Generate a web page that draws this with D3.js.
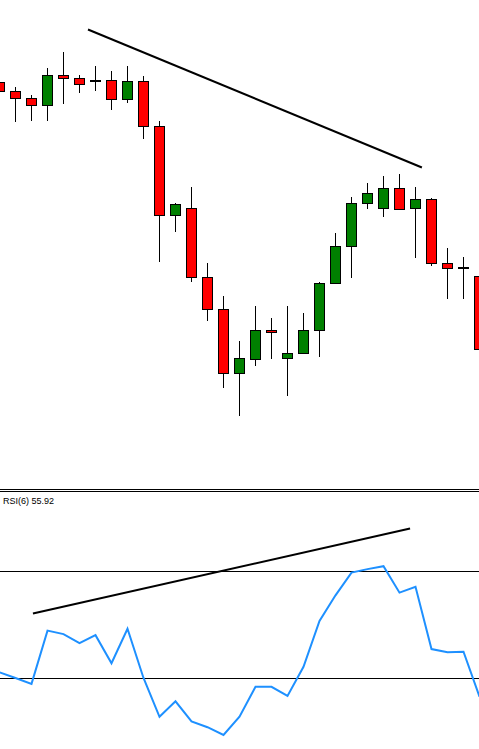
<!DOCTYPE html>
<meta charset="utf-8">
<style>
html, body { margin: 0; padding: 0; background: #fff; }
svg { display: block; }
</style>
<script src="https://d3js.org/d3.v7.min.js"></script>
<div id="chart"></div>
<script>
// candles, in arbitrary price units
const opens  = [91.93, 89.75, 87.93, 86.18, 93.75, 92.93, 92.50, 92.43, 87.58, 92.18,
                80.93, 58.68, 60.43, 43.18, 35.18, 19.18, 22.68, 29.93, 22.93, 24.18,
                29.93, 41.68, 50.93, 61.68, 60.43, 65.43, 60.43, 62.68, 46.68, 45.58, 43.43];
const highs  = [92.50, 90.75, 88.75, 95.50, 99.50, 93.83, 96.00, 94.75, 96.00, 93.50,
                82.25, 61.68, 65.75, 46.75, 38.50, 27.25, 36.00, 32.93, 36.00, 34.18,
                41.93, 54.25, 63.25, 66.75, 68.50, 69.00, 65.75, 62.93, 50.43, 48.18, 44.50];
const lows   = [89.00, 82.08, 82.33, 82.33, 86.58, 89.33, 89.83, 85.00, 86.83, 77.68,
                47.08, 54.58, 42.08, 32.33, 15.43,  8.58, 21.08, 22.68, 13.58, 23.93,
                23.33, 41.43, 42.93, 60.33, 58.33, 60.18, 48.08, 46.08, 37.68, 37.83, 24.50];
const closes = [89.58, 87.93, 86.18, 93.75, 92.93, 91.43, 92.50, 87.58, 92.18, 80.93,
                58.68, 61.43, 43.18, 35.18, 19.18, 22.93, 29.93, 29.43, 24.18, 29.93,
                41.68, 50.93, 61.68, 64.18, 65.43, 60.18, 62.68, 46.68, 45.43, 45.58, 25.18];

// RSI(6) per bar
const rsi = [32.2, 30.1, 27.9, 47.8, 46.5, 43.1, 46.1, 35.6, 48.5, 30.1,
             15.6, 21.4, 13.9, 11.7, 8.8, 15.6, 26.8, 26.8, 23.4, 34.3,
             51.4, 61.0, 69.5, 70.8, 71.9, 62.0, 64.2, 40.9, 39.7, 39.9, 23.1];
const rsiLevels = [70, 30];
const rsiLabel = "RSI(6) 55.92";

// trend lines: [bar index, value]
const priceTrend = [[5.53, 105.13], [26.40, 70.63]];
const rsiTrend = [[2.09, 54.2], [25.66, 86.0]];

const W = 479, H = 749;
const svg = d3.select("#chart").append("svg")
  .attr("width", W).attr("height", H);

const x = d3.scaleLinear().domain([0, 30]).range([-0.5, 479.5]);
const yP = d3.scaleLinear().domain([0, 100]).range([450, 50]);
const yR = d3.scaleLinear().domain([0, 100]).range([758.5, 491]);

const bars = d3.range(opens.length).map(i => ({
  i, o: opens[i], h: highs[i], l: lows[i], c: closes[i]
}));

// price panel
const candles = svg.append("g").attr("shape-rendering", "crispEdges");
candles.selectAll("line.wick").data(bars).join("line")
  .attr("class", "wick")
  .attr("x1", d => x(d.i)).attr("x2", d => x(d.i))
  .attr("y1", d => yP(d.h)).attr("y2", d => yP(d.l))
  .attr("stroke", "#000").attr("stroke-width", 1);
candles.selectAll("rect").data(bars).join("rect")
  .attr("x", d => x(d.i) - 5)
  .attr("width", 10)
  .attr("y", d => yP(Math.max(d.o, d.c)))
  .attr("height", d => Math.max(1, Math.abs(yP(d.o) - yP(d.c))))
  .attr("fill", d => d.c > d.o ? "#008000" : d.c < d.o ? "#ff0000" : "#000")
  .attr("stroke", "#000").attr("stroke-width", 1);

svg.append("path")
  .datum(priceTrend)
  .attr("fill", "none").attr("stroke", "#000").attr("stroke-width", 2)
  .attr("d", d3.line().x(d => x(d[0])).y(d => yP(d[1])));

// separator
svg.append("g").attr("shape-rendering", "crispEdges")
  .selectAll("line").data([489.5, 491.5]).join("line")
  .attr("x1", 0).attr("x2", W).attr("y1", d => d).attr("y2", d => d)
  .attr("stroke", "#000").attr("stroke-width", 1);

// RSI panel
svg.append("text")
  .attr("x", 3).attr("y", 504)
  .attr("font-family", "Liberation Sans, Arial, sans-serif")
  .attr("font-size", 9)
  .attr("fill", "#000")
  .text(rsiLabel);

svg.append("g").attr("shape-rendering", "crispEdges")
  .selectAll("line").data(rsiLevels).join("line")
  .attr("x1", 0).attr("x2", W)
  .attr("y1", d => yR(d)).attr("y2", d => yR(d))
  .attr("stroke", "#000").attr("stroke-width", 1);

svg.append("path")
  .datum(rsi)
  .attr("fill", "none").attr("stroke", "#1e90ff").attr("stroke-width", 2)
  .attr("d", d3.line().x((d, i) => x(i)).y(d => yR(d)));

svg.append("path")
  .datum(rsiTrend)
  .attr("fill", "none").attr("stroke", "#000").attr("stroke-width", 2)
  .attr("d", d3.line().x(d => x(d[0])).y(d => yR(d[1])));
</script>
